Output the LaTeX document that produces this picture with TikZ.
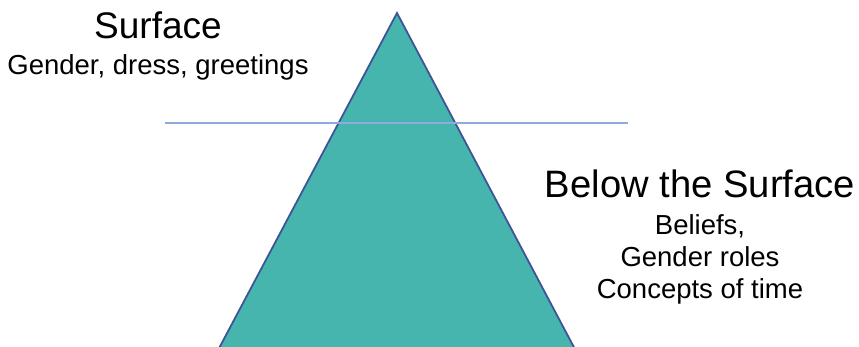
\documentclass[tikz,border=0pt]{standalone}
\usepackage{fontspec}
\setmainfont{Liberation Sans}
\definecolor{tealfill}{HTML}{46B5AE}
\definecolor{edgeblue}{HTML}{3E5496}
\definecolor{waterline}{HTML}{8FAADC}
\begin{document}
\begin{tikzpicture}[x=1pt,y=-1pt,
  heading/.style={anchor=base,inner sep=0pt,font=\fontsize{37}{40}\selectfont},
  bigheading/.style={anchor=base,inner sep=0pt,font=\fontsize{38.2}{41}\selectfont},
  detail/.style={anchor=base,inner sep=0pt,font=\fontsize{27.5}{30}\selectfont}]
  \useasboundingbox (0,0) rectangle (859,346);
  \clip (0,0) rectangle (859,346);
  % pyramid (base runs off the bottom edge)
  \coordinate (apex) at (397,13);
  \coordinate (baseL) at (216.5,353);
  \coordinate (baseR) at (577,353);
  \draw[edgeblue,line width=1.8pt,line join=miter,fill=tealfill] (apex) -- (baseL) -- (baseR) -- cycle;
  % water line
  \coordinate (wl) at (165,123);
  \coordinate (wr) at (628,123);
  \draw[waterline,line width=1.4pt] (wl) -- (wr);
  % labels
  \node[heading] (surf) at (158,38) {Surface};
  \node[detail] (surfitems) at (158,74) {Gender, dress, greetings};
  \node[bigheading] (below) at (700,197) {Below the Surface};
  \node[detail] (b1) at (700,234) {Beliefs,};
  \node[detail] (b2) at (700,266) {Gender roles};
  \node[detail] (b3) at (700,298) {Concepts of time};
\end{tikzpicture}
\end{document}
